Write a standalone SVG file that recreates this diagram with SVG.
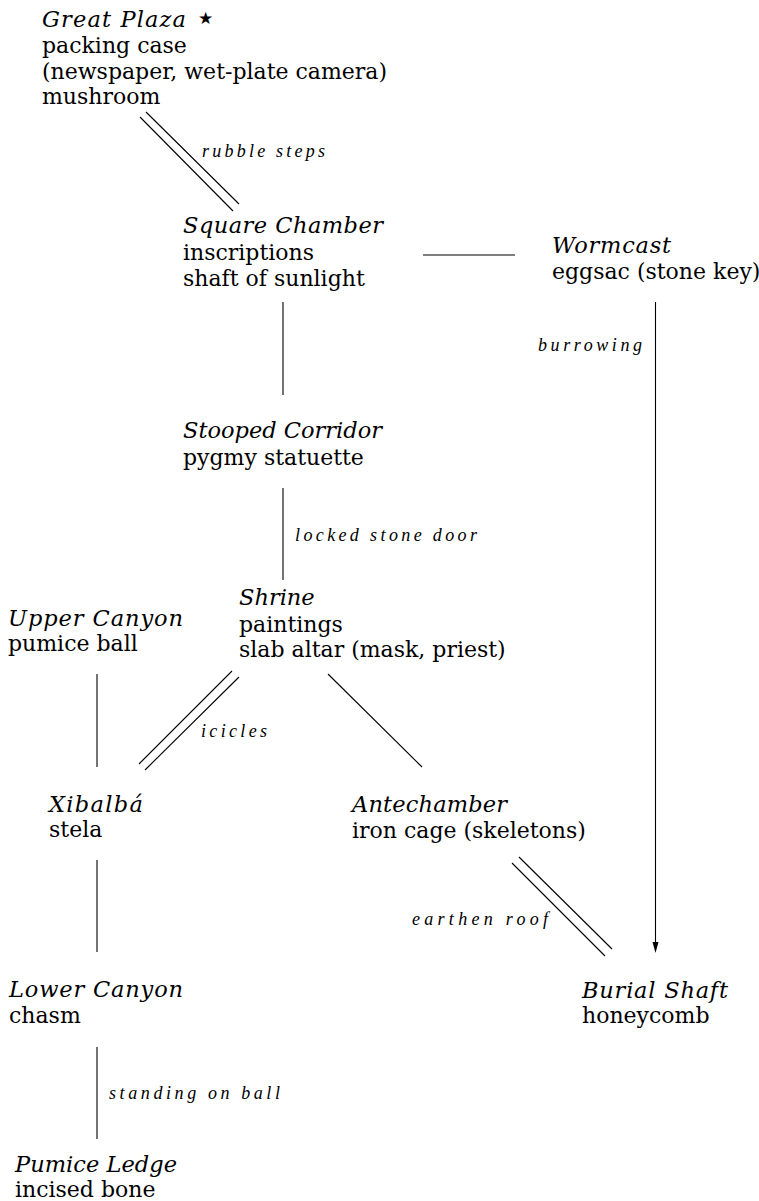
<svg xmlns="http://www.w3.org/2000/svg" width="759" height="1201" viewBox="0 0 759 1201">
<style>
.t{font-family:"DejaVu Serif","Liberation Serif",serif;font-size:22px;fill:#000}
.ti{font-style:italic;font-size:22.5px}
.l{font-family:"Liberation Serif",serif;font-style:italic;font-size:18px;fill:#000}
.c{stroke:#000;stroke-width:1.1;fill:none}
.star{font-family:"DejaVu Sans",sans-serif;font-size:17px;fill:#000}
</style>
<rect width="759" height="1201" fill="#fff"/>
<g id="connectors">
<line class="c" x1="146" y1="112" x2="239" y2="204"/>
<line class="c" x1="140" y1="117" x2="233" y2="211"/>
<text class="l" x="202" y="157" textLength="123" lengthAdjust="spacing">rubble steps</text>
<line class="c" x1="423" y1="255" x2="515" y2="255"/>
<line class="c" x1="283" y1="302" x2="283" y2="395"/>
<line class="c" x1="655.5" y1="302" x2="655.5" y2="943"/>
<path d="M652.5,942 L658.5,942 L655.5,953 Z" fill="#000"/>
<text class="l" x="538" y="351" textLength="104" lengthAdjust="spacing">burrowing</text>
<line class="c" x1="283" y1="488" x2="283" y2="580"/>
<text class="l" x="295" y="541" textLength="182" lengthAdjust="spacing">locked stone door</text>
<line class="c" x1="97" y1="674" x2="97" y2="767"/>
<line class="c" x1="232" y1="671" x2="139" y2="764"/>
<line class="c" x1="239" y1="677" x2="145" y2="770"/>
<text class="l" x="201" y="737" textLength="66" lengthAdjust="spacing">icicles</text>
<line class="c" x1="328" y1="674" x2="422" y2="767"/>
<line class="c" x1="97" y1="860" x2="97" y2="952"/>
<line class="c" x1="519" y1="857" x2="612" y2="949"/>
<line class="c" x1="512" y1="863" x2="605" y2="956"/>
<text class="l" x="412" y="925" textLength="136" lengthAdjust="spacing">earthen roof</text>
<line class="c" x1="97" y1="1047" x2="97" y2="1139"/>
<text class="l" x="109" y="1099" textLength="171" lengthAdjust="spacing">standing on ball</text>
</g>
<g id="great-plaza">
<text class="t ti" x="42" y="27" textLength="144" lengthAdjust="spacing">Great Plaza</text>
<text class="star" x="198" y="24">★</text>
<text class="t" x="42" y="53">packing case</text>
<text class="t" x="42" y="79">(newspaper, wet-plate camera)</text>
<text class="t" x="42" y="104">mushroom</text>
</g>
<g id="square-chamber">
<text class="t ti" x="183" y="233" textLength="200" lengthAdjust="spacing">Square Chamber</text>
<text class="t" x="183" y="260">inscriptions</text>
<text class="t" x="183" y="286">shaft of sunlight</text>
</g>
<g id="wormcast">
<text class="t ti" x="552" y="253" textLength="119" lengthAdjust="spacing">Wormcast</text>
<text class="t" x="552" y="279">eggsac (stone key)</text>
</g>
<g id="stooped-corridor">
<text class="t ti" x="183" y="438" textLength="199" lengthAdjust="spacing">Stooped Corridor</text>
<text class="t" x="183" y="465">pygmy statuette</text>
</g>
<g id="shrine">
<text class="t ti" x="239" y="605">Shrine</text>
<text class="t" x="239" y="632">paintings</text>
<text class="t" x="239" y="657">slab altar (mask, priest)</text>
</g>
<g id="upper-canyon">
<text class="t ti" x="8" y="626" textLength="175" lengthAdjust="spacing">Upper Canyon</text>
<text class="t" x="8" y="651">pumice ball</text>
</g>
<g id="xibalba">
<text class="t ti" x="49" y="812" textLength="94" lengthAdjust="spacing">Xibalbá</text>
<text class="t" x="49" y="837">stela</text>
</g>
<g id="antechamber">
<text class="t ti" x="352" y="812" textLength="155" lengthAdjust="spacing">Antechamber</text>
<text class="t" x="352" y="838">iron cage (skeletons)</text>
</g>
<g id="burial-shaft">
<text class="t ti" x="582" y="998" textLength="146" lengthAdjust="spacing">Burial Shaft</text>
<text class="t" x="582" y="1023">honeycomb</text>
</g>
<g id="lower-canyon">
<text class="t ti" x="9" y="997" textLength="174" lengthAdjust="spacing">Lower Canyon</text>
<text class="t" x="9" y="1023">chasm</text>
</g>
<g id="pumice-ledge">
<text class="t ti" x="15" y="1172" textLength="162" lengthAdjust="spacing">Pumice Ledge</text>
<text class="t" x="15" y="1197">incised bone</text>
</g>
</svg>
